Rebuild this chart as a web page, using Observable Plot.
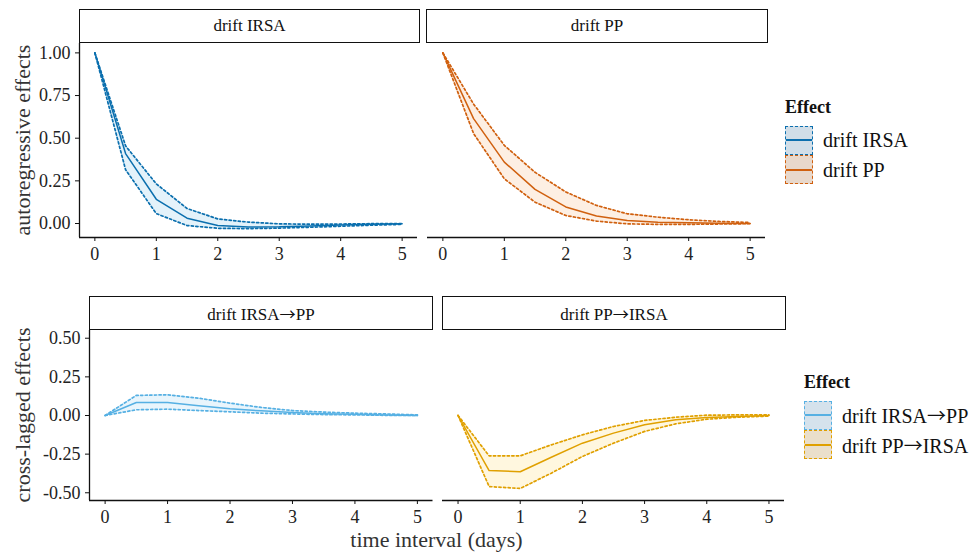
<!DOCTYPE html>
<html>
<head>
<meta charset="utf-8">
<script src="https://cdn.jsdelivr.net/npm/d3@7"></script>
<script src="https://cdn.jsdelivr.net/npm/@observablehq/plot@0.6"></script>
<style>
  html, body { margin: 0; padding: 0; background: #fff; }
  #wrap { position: relative; width: 975px; height: 552px; background: #fff; overflow: hidden;
          font-family: "Liberation Serif", serif; color: #222; }
  #wrap svg text { font-family: "Liberation Serif", serif; }
  .strip { position: absolute; box-sizing: border-box; border: 1.3px solid #111; background: #fff;
           height: 34px; line-height: 32px; text-align: center; font-size: 17px; color: #111; }
  .ytitle { position: absolute; font-size: 22px; line-height: 20px; white-space: nowrap; color: #333;
            transform: translate(-50%, -50%) rotate(-90deg); }
  .xtitle { position: absolute; font-size: 22px; line-height: 19px; white-space: nowrap; color: #333;
            transform: translateX(-50%); }
  .legtitle { position: absolute; font-size: 18px; line-height: 18px; font-weight: bold; color: #111; }
  .leglab { position: absolute; font-size: 20px; line-height: 20px; white-space: nowrap; color: #111; }
  .arrow { font-family: "Noto Sans CJK SC", "DejaVu Sans", sans-serif; font-size: 0.95em; }
  .key { position: absolute; box-sizing: border-box; width: 28px; border-width: 1.6px; border-style: dashed; }
  .key > div { position: absolute; left: 0; right: 0; top: 50%; height: 2px; margin-top: -1px; }
</style>
</head>
<body>
<div id="wrap"></div>
<script>
// ---- data ----
const times = [0, 0.5, 1, 1.5, 2, 2.5, 3, 3.5, 4, 4.5, 5];

const irsaEst = [1.0, 0.41, 0.142, 0.031, -0.012, -0.02, -0.019, -0.014, -0.009, -0.005, -0.002];
const irsaHi  = [1.0, 0.455, 0.232, 0.088, 0.027, 0.008, -0.002, -0.004, -0.003, -0.001, 0.0];
const irsaLo  = [1.0, 0.315, 0.058, -0.012, -0.028, -0.03, -0.027, -0.022, -0.016, -0.01, -0.005];

const ppEst = [1.0, 0.615, 0.36, 0.2, 0.097, 0.044, 0.018, 0.008, 0.004, 0.002, 0.0];
const ppHi  = [1.0, 0.70, 0.458, 0.30, 0.185, 0.106, 0.057, 0.037, 0.022, 0.012, 0.006];
const ppLo  = [1.0, 0.527, 0.262, 0.125, 0.047, 0.014, -0.002, -0.005, -0.005, -0.003, -0.001];

const irsaPpEst = [0, 0.084, 0.084, 0.063, 0.043, 0.03, 0.019, 0.012, 0.008, 0.004, 0.0];
const irsaPpHi  = [0, 0.13, 0.134, 0.112, 0.08, 0.052, 0.032, 0.022, 0.015, 0.01, 0.004];
const irsaPpLo  = [0, 0.037, 0.041, 0.032, 0.024, 0.015, 0.01, 0.006, 0.004, 0.001, 0.0];

const ppIrsaEst = [0, -0.356, -0.364, -0.27, -0.179, -0.114, -0.06, -0.028, -0.013, -0.006, 0.0];
const ppIrsaHi  = [0, -0.261, -0.261, -0.19, -0.125, -0.071, -0.032, -0.011, 0.002, 0.004, 0.004];
const ppIrsaLo  = [0, -0.46, -0.472, -0.373, -0.265, -0.179, -0.103, -0.054, -0.024, -0.011, -0.004];

const effectNames = ["drift IRSA", "drift PP", "drift IRSA\u2192PP", "drift PP\u2192IRSA"];
const xTicks = [0, 1, 2, 3, 4, 5];
const yTicksAuto = [0, 0.25, 0.5, 0.75, 1];
const yTicksCross = [-0.5, -0.25, 0, 0.25, 0.5];
const rowTitles = ["autoregressive effects", "cross-lagged effects"];
const xTitle = "time interval (days)";

// ---- styles ----
const lineColors = ["#0b6fae", "#d0600f", "#56b0e3", "#e0a000"];
const ribbonColors = ["#e4f2fa", "#fdefe3", "#e9f5fc", "#fff7df"];
const keyFills = ["#d1dee8", "#e8d8cb", "#d5e2ec", "#eadfcb"];
const FONT = "Liberation Serif, serif";

const table = (est, lo, hi) => times.map((t, i) => ({t, est: est[i], lo: lo[i], hi: hi[i]}));
const series = [
  table(irsaEst, irsaLo, irsaHi),
  table(ppEst, ppLo, ppHi),
  table(irsaPpEst, irsaPpLo, irsaPpHi),
  table(ppIrsaEst, ppIrsaLo, ppIrsaHi)
];

const wrap = document.getElementById("wrap");
const fmtY = d => d.toFixed(2);
const fmtX = d => String(d);

// put the arrow glyph in a font that has a full-width open arrow
function setLabel(el, text) {
  const parts = text.split("\u2192");
  parts.forEach((p, i) => {
    if (i > 0) {
      const a = document.createElement("span");
      a.className = "arrow";
      a.textContent = "\u2192";
      el.appendChild(a);
    }
    el.appendChild(document.createTextNode(p));
  });
}

function panel(k, box) {
  const data = series[k];
  const c = lineColors[k];
  const xd = [-0.25, 5.25];
  const yd = box.yDomain;
  const marks = [
    Plot.areaY(data, {x: "t", y1: "lo", y2: "hi", fill: ribbonColors[k]}),
    Plot.line(data, {x: "t", y: "hi", stroke: c, strokeWidth: 1.7, strokeDasharray: "2.2,2.4"}),
    Plot.line(data, {x: "t", y: "lo", stroke: c, strokeWidth: 1.7, strokeDasharray: "2.2,2.4"}),
    Plot.line(data, {x: "t", y: "est", stroke: c, strokeWidth: 1.5}),
    Plot.ruleY([yd[0]], {stroke: "#111", strokeWidth: 1.3}),
    Plot.axisX({ticks: xTicks, tickFormat: fmtX, tickSize: 4, tickPadding: 6, fontSize: 18, fontFamily: FONT,
                stroke: "#111", fill: "#222", label: null})
  ];
  if (box.showY) {
    marks.push(Plot.ruleX([xd[0]], {stroke: "#111", strokeWidth: 1.3}));
    marks.push(Plot.axisY({ticks: box.yTicks, tickFormat: fmtY, tickSize: 4, tickPadding: 5, fontSize: 18, fontFamily: FONT,
                           stroke: "#111", fill: "#222", label: null}));
  }
  const svg = Plot.plot({
    width: box.w, height: box.h,
    marginLeft: box.ml, marginRight: box.mr, marginTop: box.mt, marginBottom: box.mb,
    x: {domain: xd, axis: null},
    y: {domain: yd, axis: null},
    style: {fontFamily: FONT, fontSize: "18px", background: "transparent", overflow: "visible"},
    marks
  });
  svg.style.position = "absolute";
  svg.style.left = box.left + "px";
  svg.style.top = box.top + "px";
  svg.style.fontFamily = FONT;
  wrap.appendChild(svg);

  const s = document.createElement("div");
  s.className = "strip";
  s.style.left = box.sx + "px";
  s.style.top = box.sy + "px";
  s.style.width = box.sw + "px";
  setLabel(s, effectNames[k]);
  wrap.appendChild(s);
}

const topDomain = [-0.082, 1.055];
const botDomain = [-0.55, 0.55];
panel(0, {left: 0, top: 0, w: 421, h: 272, ml: 79, mr: 4, mt: 43, mb: 35, yDomain: topDomain, yTicks: yTicksAuto, showY: true,
          sx: 79, sy: 9, sw: 341});
panel(1, {left: 421, top: 0, w: 351, h: 272, ml: 6, mr: 7, mt: 43, mb: 35, yDomain: topDomain, showY: false,
          sx: 426, sy: 9, sw: 342});
panel(2, {left: 0, top: 280, w: 437, h: 245, ml: 89, mr: 4.5, mt: 50, mb: 25, yDomain: botDomain, yTicks: yTicksCross, showY: true,
          sx: 89, sy: 296, sw: 344});
panel(3, {left: 437, top: 280, w: 352, h: 245, ml: 5, mr: 5, mt: 50, mb: 25, yDomain: botDomain, showY: false,
          sx: 442, sy: 296, sw: 344});

function addText(cls, text, left, top) {
  const d = document.createElement("div");
  d.className = cls;
  d.style.left = left + "px";
  d.style.top = top + "px";
  setLabel(d, text);
  wrap.appendChild(d);
  return d;
}
addText("ytitle", rowTitles[0], 22.5, 140);
addText("ytitle", rowTitles[1], 23, 415);
addText("xtitle", xTitle, 436.5, 530);

function legend(items, x, titleTop, keyTops, labelX) {
  addText("legtitle", "Effect", x, titleTop);
  items.forEach((k, i) => {
    const key = document.createElement("div");
    key.className = "key";
    key.style.left = x + "px";
    key.style.top = keyTops[i] + "px";
    key.style.height = "29px";
    key.style.background = keyFills[k];
    key.style.borderColor = lineColors[k];
    const ln = document.createElement("div");
    ln.style.background = lineColors[k];
    key.appendChild(ln);
    wrap.appendChild(key);
    addText("leglab", effectNames[k], labelX, keyTops[i] + 4.5);
  });
}
legend([0, 1], 785, 98, [125.5, 155], 823);
legend([2, 3], 804, 373, [400.5, 430], 842);
</script>
</body>
</html>
